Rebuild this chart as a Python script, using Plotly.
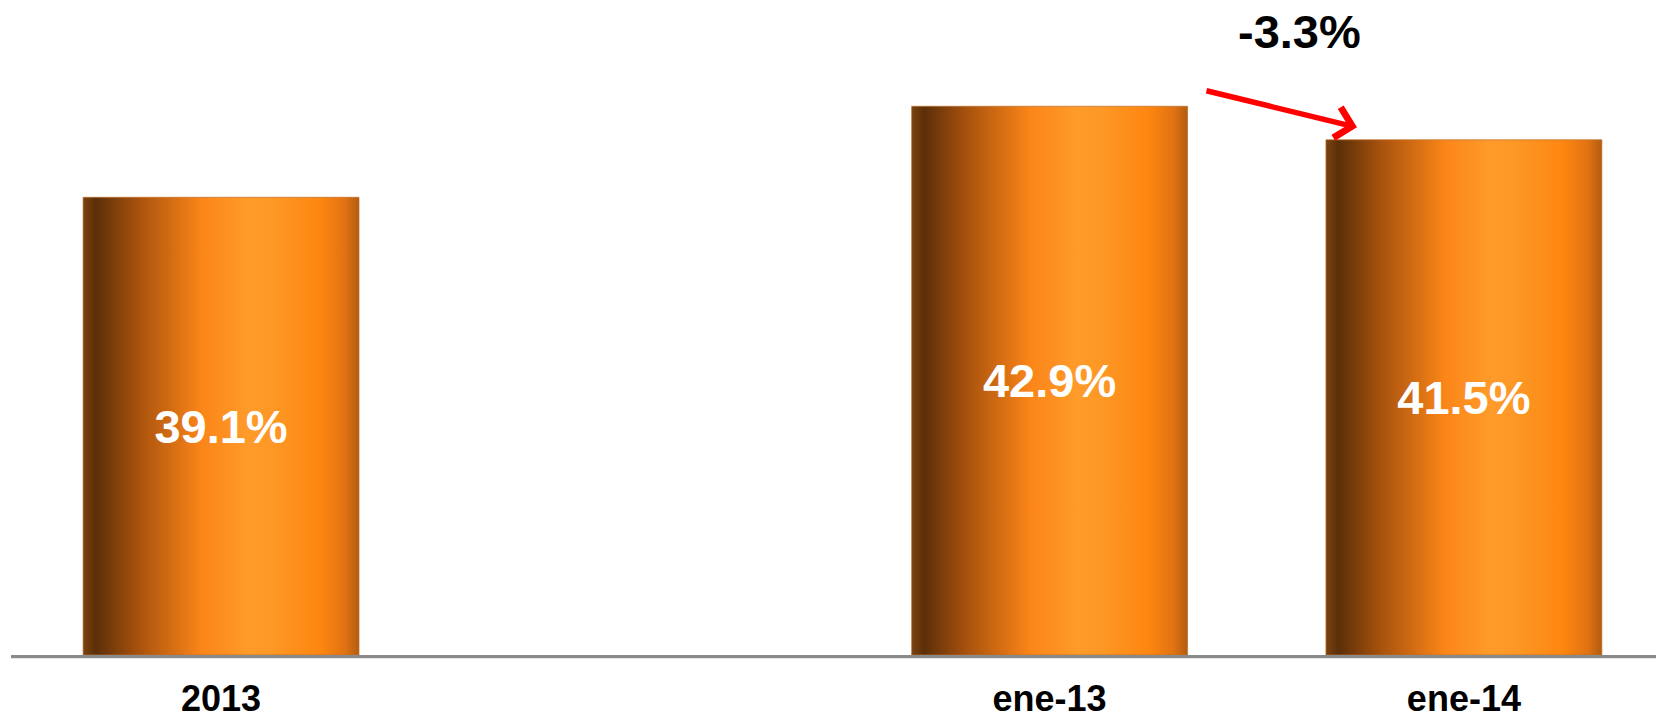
import plotly.graph_objects as go

categories = ["2013", "", "ene-13", "ene-14"]
values = [39.1, None, 42.9, 41.5]
value_labels = ["39.1%", "", "42.9%", "41.5%"]
change_label = "-3.3%"
y_base = 20

bar_w = 0.666
grad = [
    [0.0, "#7a4210"], [0.045, "#5c2f08"], [0.2, "#a8520e"], [0.43, "#fb8518"],
    [0.6, "#ff9b2a"], [0.68, "#fd9826"], [0.86, "#fd8610"], [0.95, "#e07212"],
    [1.0, "#b25c12"],
]

fig = go.Figure()
for i, (c, v) in enumerate(zip(categories, values)):
    if v is None:
        continue
    x0, x1 = i - bar_w / 2, i + bar_w / 2
    fig.add_trace(go.Scatter(
        x=[x0, x1, x1, x0, x0], y=[y_base, y_base, v, v, y_base],
        mode="lines", fill="toself",
        line=dict(width=1, color="rgba(190,110,40,0.7)"),
        fillgradient=dict(type="horizontal", colorscale=grad),
        hoverinfo="skip", showlegend=False,
    ))

xs = [i for i, v in enumerate(values) if v is not None]
fig.add_trace(go.Scatter(
    x=xs, y=[(y_base + values[i]) / 2 - 0.2 for i in xs],
    text=[value_labels[i] for i in xs], mode="text",
    textfont=dict(family="Liberation Sans, Arial", size=47, color="white", weight="bold"),
    showlegend=False, hoverinfo="skip",
))

# change arrow from ene-13 to ene-14
fig.add_annotation(
    x=3 - bar_w / 2 + 0.075, y=values[3] + 0.52, xref="x", yref="y",
    ax=2 + bar_w / 2 + 0.042, ay=values[2] + 0.66, axref="x", ayref="y",
    showarrow=True, arrowhead=4, arrowsize=1.1, arrowwidth=5.5, arrowcolor="#ff0000", text="",
)
fig.add_annotation(
    x=2.604, y=values[2] + 3.12, xref="x", yref="y", text=change_label, showarrow=False,
    font=dict(family="Liberation Sans, Arial", size=47, color="black", weight="bold"),
)

# soft shadow under the baseline
fig.add_shape(type="line", xref="paper", yref="paper", x0=0, x1=1, y0=-0.004, y1=-0.004,
              line=dict(color="#cfcfcf", width=2), layer="below")

fig.update_layout(
    width=1656, height=707, paper_bgcolor="white", plot_bgcolor="white",
    margin=dict(l=3, r=0, t=0, b=60, autoexpand=False),
    xaxis=dict(range=[-0.507, 3.483], tickvals=list(range(len(categories))), ticktext=categories,
               showgrid=False, zeroline=False, showline=True, linecolor="#8a8a8a", linewidth=3,
               ticks="", ticklabelstandoff=10, automargin=False,
               tickfont=dict(family="Liberation Sans, Arial", size=36,
                             color="black", weight="bold")),
    yaxis=dict(range=[y_base, 47.0], visible=False, showgrid=False, zeroline=False, automargin=False),
)
fig.write_html("out.html")
